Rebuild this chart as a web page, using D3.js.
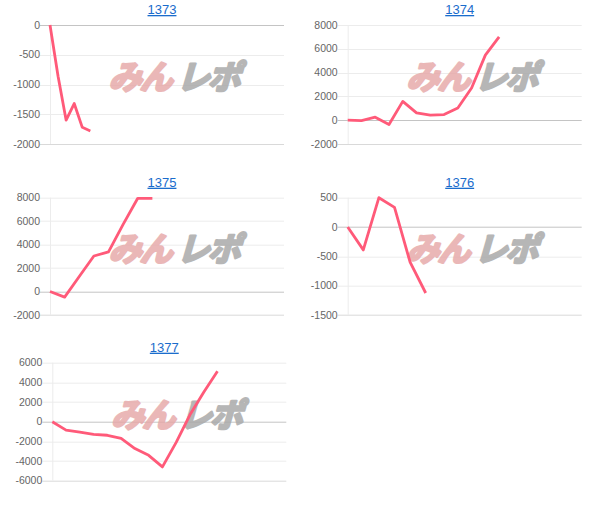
<!DOCTYPE html>
<html>
<head>
<meta charset="utf-8">
<script src="https://cdn.jsdelivr.net/npm/d3@7"></script>
<style>
  body { margin: 0; background: #fff; }
  svg { display: block; }
  .ylab { font: 10.5px "Liberation Sans", Arial, sans-serif; fill: #666; }
  .ttl { font: 13px "Liberation Sans", Arial, sans-serif; fill: #1a6ccc; text-decoration: underline; }
</style>
</head>
<body>
<svg id="chart" width="610" height="513"></svg>
<script>
// one chart per machine number
const titles = ['1373', '1374', '1375', '1376', '1377'];

// how many x slots each chart has (line stops where the data stops)
const slotCounts = [30, 18, 17, 16, 18];

// cumulative diff values
const s1373 = [0, -860, -1600, -1320, -1720, -1780];
const s1374 = [0, -30, 250, -360, 1580, 610, 420, 470, 1030, 2700, 5470, 7000];
const s1375 = [0, -480, 1280, 3030, 3380, 5730, 7950, 7950];
const s1376 = [0, -390, 500, 335, -600, -1125];
const s1377 = [0, -860, -1050, -1280, -1380, -1690, -2730, -3420, -4600, -2100, 700, 3000, 5120];
const series = [s1373, s1374, s1375, s1376, s1377];

// y ranges and tick labels
const yMins = [-2000, -2000, -2000, -1500, -6000];
const yMaxs = [0, 8000, 8000, 500, 6000];
const ticks1373 = [0, -500, -1000, -1500, -2000];
const ticks1374 = [8000, 6000, 4000, 2000, 0, -2000];
const ticks1375 = [8000, 6000, 4000, 2000, 0, -2000];
const ticks1376 = [500, 0, -500, -1000, -1500];
const ticks1377 = [6000, 4000, 2000, 0, -2000, -4000, -6000];
const tickSets = [ticks1373, ticks1374, ticks1375, ticks1376, ticks1377];

// panel placement (plot area left / top / bottom)
const layout = [
  {l: 50, t: 25, b: 144},
  {l: 347.7, t: 25, b: 144},
  {l: 50, t: 197.7, b: 315},
  {l: 347.7, t: 197.7, b: 315},
  {l: 52.3, t: 362.7, b: 480.7}
];
const plotW = 234;

const svg = d3.select('#chart');

titles.forEach(function(name, i) {
  const L = layout[i];
  const g = svg.append('g').attr('transform', 'translate(' + L.l + ',' + L.t + ')');
  const h = L.b - L.t;

  const x = d3.scaleLinear().domain([0, slotCounts[i] - 1]).range([0, plotW]);
  const y = d3.scaleLinear().domain([yMins[i], yMaxs[i]]).range([h, 0]);

  // grid lines + tick marks
  g.selectAll('line.grid')
    .data(tickSets[i])
    .enter().append('line')
      .attr('x1', -10).attr('x2', plotW)
      .attr('y1', function(d) { return Math.round(y(d)) + 0.5; })
      .attr('y2', function(d) { return Math.round(y(d)) + 0.5; })
      .attr('stroke', function(d) {
        if (d === 0) return '#c4c4c4';
        if (d === yMins[i]) return '#d9d9d9';
        return '#ececec';
      });

  // y axis line
  g.append('line')
    .attr('x1', 0.5).attr('x2', 0.5)
    .attr('y1', 0).attr('y2', h)
    .attr('stroke', '#ececec');

  g.selectAll('text.ylab')
    .data(tickSets[i])
    .enter().append('text')
      .attr('class', 'ylab')
      .attr('x', -10)
      .attr('y', function(d) { return y(d); })
      .attr('dy', '0.35em')
      .attr('text-anchor', 'end')
      .text(function(d) { return d; });

  // title
  svg.append('text')
    .attr('class', 'ttl')
    .attr('x', L.l + 112)
    .attr('y', L.t - 11)
    .attr('text-anchor', 'middle')
    .text(name);

  // watermark (heavy italic logo text, faked bold with a stroke)
  const wm = g.append('g')
    .attr('transform', 'translate(' + 127 + ',' + (h * 0.44) + ') skewX(-16)');
  wm.append('g').attr('opacity', 0.8)
    .append('text')
    .attr('x', -3).attr('y', 12)
    .attr('text-anchor', 'end')
    .style('font', 'bold 33px "Noto Sans CJK JP", sans-serif')
    .style('letter-spacing', '-2px')
    .attr('fill', '#e6a6a6')
    .attr('stroke', '#e6a6a6').attr('stroke-width', 2.6).attr('stroke-linejoin', 'round')
    .text('みん');
  wm.append('g').attr('opacity', 0.85)
    .append('text')
    .attr('x', 3).attr('y', 12)
    .attr('text-anchor', 'start')
    .style('font', 'bold 33px "Noto Sans CJK JP", sans-serif')
    .style('letter-spacing', '-2px')
    .attr('fill', '#aaaaaa')
    .attr('stroke', '#aaaaaa').attr('stroke-width', 2.6).attr('stroke-linejoin', 'round')
    .text('レポ');

  // the line
  const line = d3.line()
    .x(function(d, k) { return x(k); })
    .y(function(d) { return y(d); });

  g.append('path')
    .datum(series[i])
    .attr('d', line)
    .attr('fill', 'none')
    .attr('stroke', '#ff5a79')
    .attr('stroke-width', 2.8)
    .attr('stroke-linejoin', 'round');
});
</script>
</body>
</html>
